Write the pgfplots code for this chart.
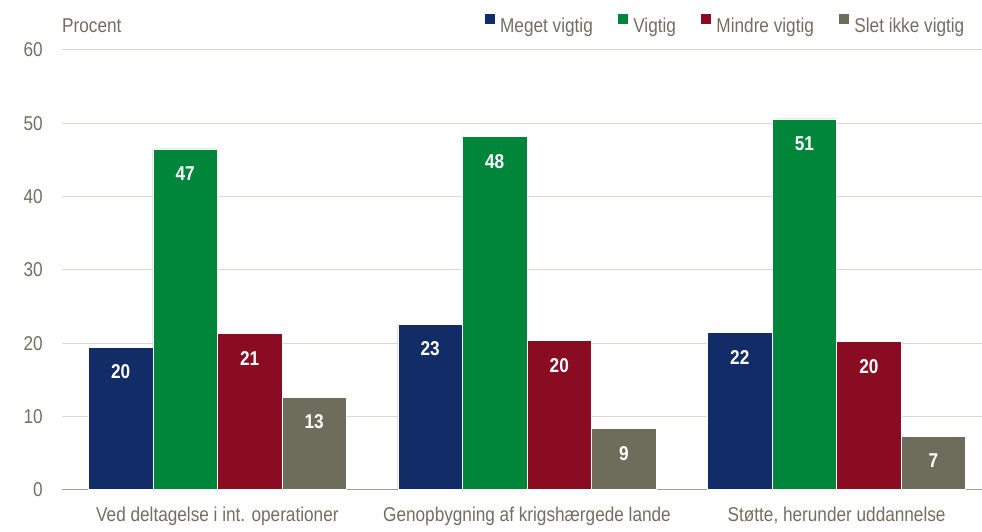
\documentclass[border=0pt]{standalone}
\usepackage{fontspec}
\setmainfont[FakeStretch=0.86]{Liberation Sans}
\usepackage{pgfplots}
\pgfplotsset{compat=1.18}
\usetikzlibrary{calc}
\definecolor{cblue}{RGB}{17,44,102}
\definecolor{cgreen}{RGB}{0,134,58}
\definecolor{cred}{RGB}{137,12,34}
\definecolor{cgrey}{RGB}{110,109,91}
\definecolor{ctext}{RGB}{112,111,96}
\definecolor{cgrid}{RGB}{217,216,208}
\definecolor{czero}{RGB}{160,159,144}
\begin{document}
\begin{tikzpicture}
\begin{axis}[
  name=ax,
  scale only axis,
  width=920bp, height=440bp,
  ybar=0pt,
  bar width=0.2085,
  xmin=-0.502, xmax=2.468,
  ymin=0, ymax=60,
  xtick={0,1,2},
  xticklabels={Ved deltagelse i int. operationer, Genopbygning af krigshærgede lande, Støtte{,} herunder uddannelse},
  ytick={10,20,30,40,50,60},
  extra y ticks={0},
  extra y tick style={grid style={draw=czero, line width=1bp}},
  ymajorgrids,
  grid style={draw=cgrid, line width=1bp},
  axis line style={draw=none},
  major tick length=0pt,
  /pgf/number format/assume math mode=true,
  tick label style={font=\fontsize{20bp}{24bp}\selectfont, text=ctext},
  yticklabel style={anchor=east, inner sep=0pt, xshift=-19bp},
  xticklabel style={anchor=base, inner sep=0pt, yshift=-32bp},
  point meta=explicit symbolic,
  nodes near coords={\pgfplotspointmeta},
  every node near coord/.append style={anchor=center, yshift=-25bp, text=white, font=\fontsize{20bp}{24bp}\selectfont\bfseries},
  clip=false,
  legend columns=4,
  legend style={draw=none, fill=none, inner sep=0pt, at={(rel axis cs:1,1)}, anchor=north east, xshift=-17bp, yshift=36bp,
    font=\fontsize{20bp}{24bp}\selectfont, text=ctext, nodes={inner sep=0pt},
    /tikz/every odd column/.append style={column sep=5.5bp},
    /tikz/every even column/.append style={column sep=25bp}},
  legend image code/.code={\fill[#1,draw=none] (0bp,1.8bp) rectangle (10bp,11.8bp);},
]
\addplot[fill=cblue, draw=white, line width=0.6bp] coordinates {(0,19.46) [20] (1,22.6) [23] (2,21.45) [22]};
\addplot[fill=cgreen, draw=white, line width=0.6bp] coordinates {(0,46.5) [47] (1,48.2) [48] (2,50.6) [51]};
\addplot[fill=cred, draw=white, line width=0.6bp] coordinates {(0,21.3) [21] (1,20.4) [20] (2,20.2) [20]};
\addplot[fill=cgrey, draw=white, line width=0.6bp] coordinates {(0,12.64) [13] (1,8.37) [9] (2,7.32) [7]};
\legend{Meget vigtig, Vigtig, Mindre vigtig, Slet ikke vigtig}
\end{axis}
\node[anchor=base west, inner sep=0pt, text=ctext, font=\fontsize{20bp}{24bp}\selectfont, yshift=17bp] at (ax.north west) {Procent};
\path ($(ax.south west)+(-62bp,-42bp)$) rectangle ($(ax.north east)+(0bp,50bp)$);
\end{tikzpicture}
\end{document}
